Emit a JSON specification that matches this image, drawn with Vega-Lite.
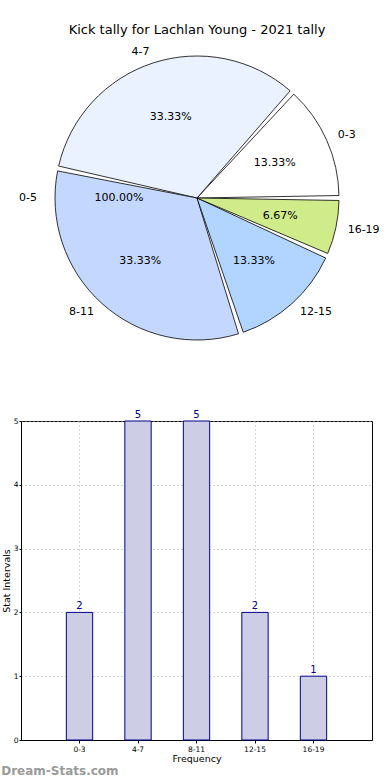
{
  "$schema": "https://vega.github.io/schema/vega-lite/v6.json",
  "padding": {"top": 23, "left": 0, "right": 0, "bottom": 0},
  "background": "white",
  "config": {"font": "DejaVu Sans", "view": {"stroke": null}},
  "datasets": {
    "tally": [
      {"label": "0-3", "value": 2, "pct": "13.33%"},
      {"label": "4-7", "value": 5, "pct": "33.33%"},
      {"label": "8-11", "value": 5, "pct": "33.33%"},
      {"label": "12-15", "value": 2, "pct": "13.33%"},
      {"label": "16-19", "value": 1, "pct": "6.67%"}
    ],
    "whole": [
      {"label": "0-5", "value": 1, "pct": "100.00%"}
    ]
  },
  "spacing": 63,
  "vconcat": [
    {
      "title": {"text": "Kick tally for Lachlan Young - 2021 tally", "fontSize": 13, "fontWeight": "normal", "color": "black", "offset": 9, "anchor": "middle"},
      "width": 352,
      "height": 296,
      "resolve": {"scale": {"theta": "independent"}},
      "layer": [
        {
          "data": {"name": "tally"},
          "transform": [{"window": [{"op": "row_number", "as": "i"}]}],
          "encoding": {
            "theta": {"field": "value", "type": "quantitative", "stack": true, "scale": {"range": [1.5708, -4.7124]}},
            "order": {"field": "i", "type": "quantitative"}
          },
          "layer": [
            {
              "mark": {"type": "arc", "radius": 142, "stroke": "black", "strokeWidth": 0.8, "padAngle": 0.035},
              "encoding": {
                "color": {"field": "label", "type": "nominal", "legend": null,
                  "scale": {"domain": ["0-3", "4-7", "8-11", "12-15", "16-19"], "range": ["#ffffff", "#eaf1ff", "#c4d8ff", "#b1d5ff", "#d0eb8a"]}}
              }
            },
            {
              "mark": {"type": "text", "radius": 154, "fontSize": 11, "color": "black", "align": "left"},
              "encoding": {"text": {"condition": {"test": "indexof(['0-3','16-19','12-15'], datum.label) >= 0", "field": "label"}, "value": ""}}
            },
            {
              "mark": {"type": "text", "radius": 154, "fontSize": 11, "color": "black", "align": "right"},
              "encoding": {"text": {"condition": {"test": "indexof(['4-7','8-11'], datum.label) >= 0", "field": "label"}, "value": ""}}
            },
            {
              "mark": {"type": "text", "radius": 85, "fontSize": 11, "color": "black"},
              "encoding": {"text": {"field": "pct"}}
            }
          ]
        },
        {
          "data": {"name": "whole"},
          "encoding": {
            "theta": {"field": "value", "type": "quantitative", "stack": true, "scale": {"range": [1.5708, -4.7124]}}
          },
          "layer": [
            {
              "mark": {"type": "text", "radius": 160, "fontSize": 11, "color": "black", "align": "right"},
              "encoding": {"text": {"field": "label"}}
            },
            {
              "mark": {"type": "text", "radius": 78, "fontSize": 11, "color": "black"},
              "encoding": {"text": {"field": "pct"}}
            }
          ]
        }
      ]
    },
    {
      "width": 351,
      "height": 319,
      "view": {"stroke": "black", "strokeWidth": 1},
      "title": {"text": "Dream-Stats.com", "orient": "bottom", "anchor": "start", "frame": "bounds", "fontSize": 12, "fontWeight": "bold", "color": "#9a9a9a", "offset": 3},
      "data": {"name": "tally"},
      "encoding": {
        "x": {"field": "label", "type": "nominal", "sort": null,
          "scale": {"paddingInner": 0.55, "paddingOuter": 0.775},
          "axis": {"title": "Frequency", "labelAngle": 0, "labelFontSize": 7.5, "titleFontSize": 9.5, "titleFontWeight": "normal", "titlePadding": 1,
            "bandPosition": 0.5, "grid": true, "gridDash": [1, 3], "gridColor": "#aaaaaa", "tickSize": 3, "tickColor": "black", "domainColor": "black", "labelPadding": 2, "labelColor": "black"}},
        "y": {"field": "value", "type": "quantitative",
          "scale": {"domain": [0, 5], "nice": false},
          "axis": {"title": "Stat Intervals", "values": [0, 1, 2, 3, 4, 5], "labelFontSize": 7.5, "titleFontSize": 9.5, "titleFontWeight": "normal", "titlePadding": 2,
            "grid": true, "gridDash": [1, 3], "gridColor": "#aaaaaa", "tickSize": 2, "tickColor": "black", "domainColor": "black", "labelPadding": 1, "labelColor": "black"}}
      },
      "layer": [
        {"mark": {"type": "bar", "fill": "#cdcde6", "stroke": "#00008b", "strokeWidth": 1}},
        {"mark": {"type": "text", "dy": -6, "fontSize": 10, "color": "#00008b"}, "encoding": {"text": {"field": "value"}}}
      ]
    }
  ]
}
